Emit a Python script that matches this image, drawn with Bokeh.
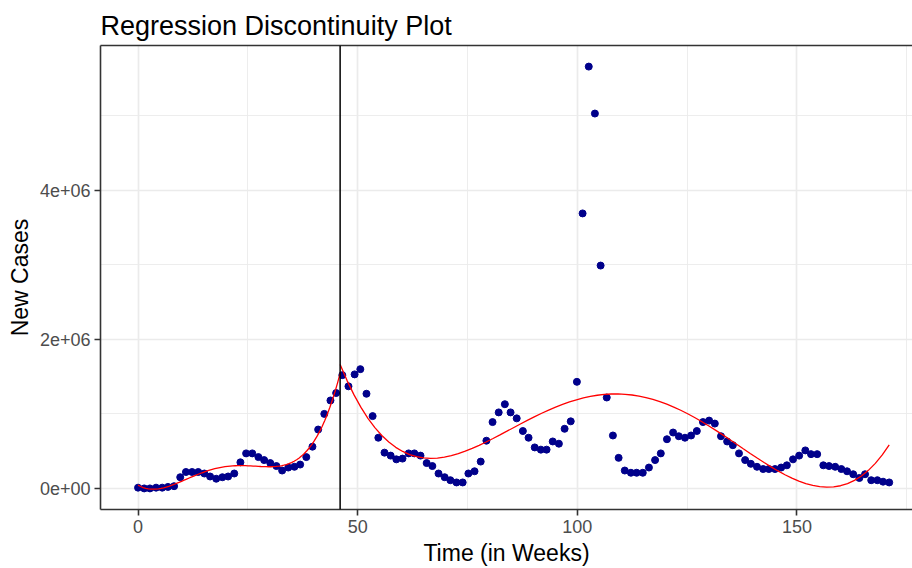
import numpy as np
from bokeh.plotting import figure
from bokeh.models import Range1d, FixedTicker, Span, LinearAxis
from bokeh.embed import file_html
from bokeh.resources import INLINE

# ---- data ----
weeks = [0.0, 1.4, 2.7, 4.1, 5.5, 6.8, 8.2, 9.6, 10.9, 12.3,
         13.7, 15.1, 16.4, 17.8, 19.2, 20.5, 21.9, 23.3, 24.6, 26.0,
         27.4, 28.7, 30.1, 31.5, 32.8, 34.2, 35.6, 36.9, 38.3, 39.7,
         41.0, 42.4, 43.8, 45.1, 46.5, 47.9, 49.3, 50.6, 52.0, 53.4,
         54.7, 56.1, 57.5, 58.8, 60.2, 61.6, 62.9, 64.3, 65.7, 67.0,
         68.4, 69.8, 71.1, 72.5, 73.9, 75.2, 76.6, 78.0, 79.3, 80.7,
         82.1, 83.5, 84.8, 86.2, 87.6, 88.9, 90.3, 91.7, 93.0, 94.4,
         95.8, 97.1, 98.5, 99.9, 101.2, 102.6, 104.0, 105.3, 106.7, 108.1,
         109.4, 110.8, 112.2, 113.5, 114.9, 116.3, 117.7, 119.0, 120.4, 121.8,
         123.1, 124.5, 125.9, 127.2, 128.6, 130.0, 131.3, 132.7, 134.1, 135.4,
         136.8, 138.2, 139.5, 140.9, 142.3, 143.6, 145.0, 146.4, 147.7, 149.1,
         150.5, 151.9, 153.2, 154.6, 156.0, 157.3, 158.7, 160.1, 161.4, 162.8,
         164.2, 165.5, 166.9, 168.3, 169.6, 171.0]

new_cases = [0.01e6, 0.00e6, 0.00e6, 0.01e6, 0.01e6, 0.02e6, 0.03e6, 0.15e6, 0.22e6, 0.22e6,
             0.22e6, 0.20e6, 0.16e6, 0.13e6, 0.15e6, 0.16e6, 0.20e6, 0.35e6, 0.47e6, 0.47e6,
             0.42e6, 0.38e6, 0.34e6, 0.30e6, 0.24e6, 0.28e6, 0.29e6, 0.32e6, 0.42e6, 0.56e6,
             0.79e6, 1.00e6, 1.18e6, 1.28e6, 1.52e6, 1.37e6, 1.53e6, 1.60e6, 1.27e6, 0.97e6,
             0.68e6, 0.48e6, 0.44e6, 0.39e6, 0.40e6, 0.47e6, 0.47e6, 0.44e6, 0.34e6, 0.30e6,
             0.20e6, 0.15e6, 0.11e6, 0.08e6, 0.08e6, 0.20e6, 0.23e6, 0.36e6, 0.64e6, 0.89e6,
             1.02e6, 1.13e6, 1.02e6, 0.94e6, 0.77e6, 0.68e6, 0.55e6, 0.52e6, 0.52e6, 0.63e6,
             0.60e6, 0.80e6, 0.90e6, 1.43e6, 3.69e6, 5.66e6, 5.03e6, 2.99e6, 1.22e6, 0.71e6,
             0.41e6, 0.24e6, 0.21e6, 0.21e6, 0.21e6, 0.28e6, 0.38e6, 0.47e6, 0.66e6, 0.75e6,
             0.70e6, 0.68e6, 0.71e6, 0.77e6, 0.89e6, 0.91e6, 0.87e6, 0.70e6, 0.63e6, 0.58e6,
             0.47e6, 0.38e6, 0.33e6, 0.29e6, 0.26e6, 0.26e6, 0.26e6, 0.28e6, 0.31e6, 0.39e6,
             0.44e6, 0.51e6, 0.46e6, 0.46e6, 0.31e6, 0.30e6, 0.29e6, 0.26e6, 0.23e6, 0.19e6,
             0.14e6, 0.19e6, 0.11e6, 0.11e6, 0.09e6, 0.08e6]

cutoff = 46
poly_degree = 4

x_ticks = [0, 50, 100, 150]
x_minor = [25, 75, 125, 175]
y_ticks = [0, 2000000, 4000000]
y_tick_labels = ["0e+00", "2e+06", "4e+06"]
y_minor = [1000000, 3000000, 5000000]

# ---- regression fits on each side of the cutoff ----
xa = np.array(weeks)
ya = np.array(new_cases)
left = xa < cutoff
right = ~left
cl = np.polyfit(xa[left], ya[left], poly_degree)
cr = np.polyfit(xa[right], ya[right], poly_degree)
xl = np.linspace(xa[left].min(), cutoff, 80)
xr = np.linspace(cutoff, xa[right].max(), 80)
yl = np.polyval(cl, xl)
yr = np.polyval(cr, xr)

FONT = "Liberation Sans"

p = figure(width=912, height=568, output_backend="svg", toolbar_location=None,
           x_range=Range1d(-8.55, 176.3), y_range=Range1d(-283000, 5943000),
           min_border_left=100, min_border_right=0, min_border_top=45, min_border_bottom=58,
           title="Regression Discontinuity Plot")
p.outline_line_color = None
p.background_fill_color = "white"
p.border_fill_color = "white"

p.title.text_font = FONT
p.title.text_font_size = "27px"
p.title.text_font_style = "normal"
p.title.text_color = "black"
p.title.align = "left"
p.title.standoff = 9
p.title.offset = 0

for ax in (p.xaxis[0], p.yaxis[0]):
    ax.axis_line_color = "#333333"
    ax.axis_line_width = 1.6
    ax.major_tick_line_color = "#333333"
    ax.major_tick_line_width = 1.6
    ax.major_tick_out = 6
    ax.major_tick_in = 0
    ax.minor_tick_out = 0
    ax.minor_tick_in = 0
    ax.major_label_text_font = FONT
    ax.major_label_text_font_size = "18px"
    ax.major_label_text_color = "#4D4D4D"
    ax.axis_label_text_font = FONT
    ax.axis_label_text_font_size = "23px"
    ax.axis_label_text_font_style = "normal"
    ax.axis_label_text_color = "black"
    ax.major_label_standoff = 4
    ax.axis_label_standoff = 4

p.xaxis.ticker = FixedTicker(ticks=x_ticks, minor_ticks=x_minor)
p.yaxis.ticker = FixedTicker(ticks=y_ticks, minor_ticks=y_minor)
p.yaxis.major_label_overrides = {t: s for t, s in zip(y_ticks, y_tick_labels)}
p.xaxis.axis_label = "Time (in Weeks)"
p.yaxis.axis_label = "New Cases"

top = LinearAxis(ticker=FixedTicker(ticks=[]), major_label_text_font_size="0px",
                 axis_line_color="#333333", axis_line_width=1.6,
                 major_tick_out=0, major_tick_in=0, minor_tick_out=0, minor_tick_in=0)
p.add_layout(top, "above")

for g in (p.xgrid[0], p.ygrid[0]):
    g.grid_line_color = "#EBEBEB"
    g.grid_line_width = 1.7
    g.minor_grid_line_color = "#EBEBEB"
    g.minor_grid_line_width = 0.9

p.scatter(weeks, new_cases, size=7, color="#00008B")
p.line(xl, yl, line_color="red", line_width=1.3)
p.line(xr, yr, line_color="red", line_width=1.3)
p.add_layout(Span(location=cutoff, dimension="height", line_color="black", line_width=1.5))

open("out.html", "w").write(file_html(p, INLINE))
